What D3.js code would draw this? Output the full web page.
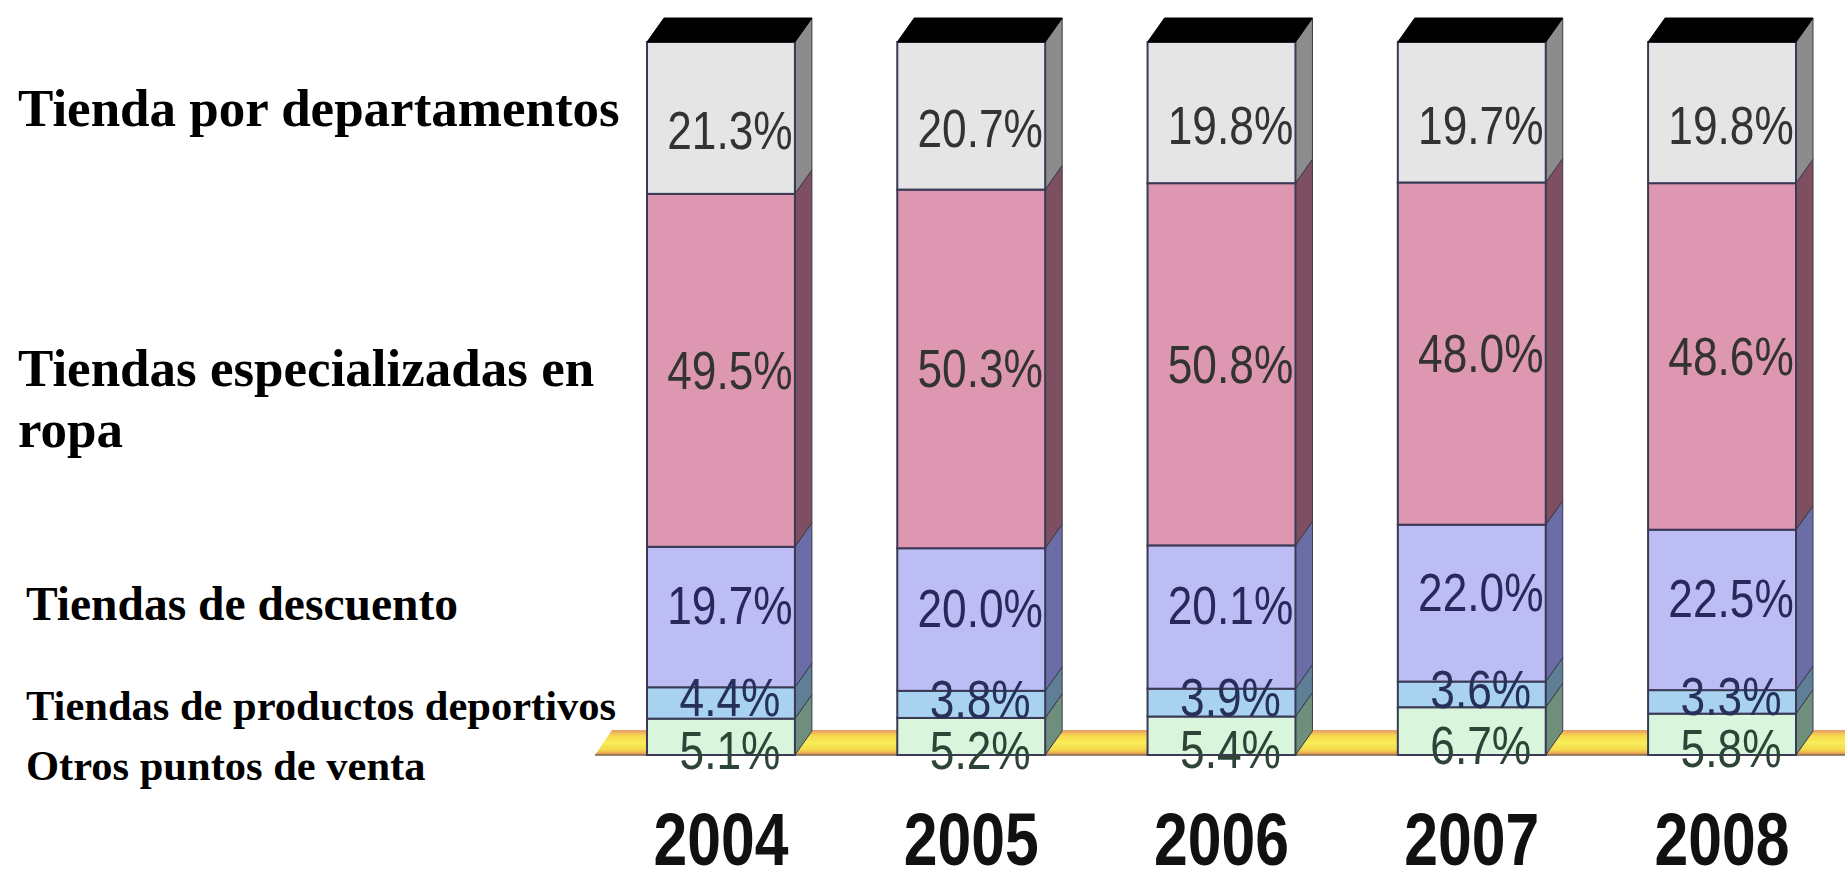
<!DOCTYPE html>
<html>
<head>
<meta charset="utf-8">
<script src="https://cdn.jsdelivr.net/npm/d3@7"></script>
<style>
  body { margin: 0; background: #fff; }
  svg { display: block; }
</style>
</head>
<body>
<div id="chart"></div>
<script>
// years along the bottom
var years = ['2004', '2005', '2006', '2007', '2008'];

// share of sales per channel, %
var departamentos = [21.3, 20.7, 19.8, 19.7, 19.8];
var ropa          = [49.5, 50.3, 50.8, 48.0, 48.6];
var descuento     = [19.7, 20.0, 20.1, 22.0, 22.5];
var deportivos    = [4.4, 3.8, 3.9, 3.6, 3.3];
var otros         = [5.1, 5.2, 5.4, 6.7, 5.8];

// category names, shown on the left (top to bottom)
var categories = [
  'Tienda por departamentos',
  'Tiendas especializadas en ropa',
  'Tiendas de descuento',
  'Tiendas de productos deportivos',
  'Otros puntos de venta'
];

var width = 1845, height = 872;
var depthX = 17, depthY = 24;
var narrow = 0.82; // no narrow font installed, squeeze Liberation Sans instead

// stack from the floor up
var keys = ['otros', 'deportivos', 'descuento', 'ropa', 'departamentos'];
var front = { otros: '#d9f5dc', deportivos: '#a9d2f0', descuento: '#bdbdf5', ropa: '#de97b1', departamentos: '#e5e5e5' };
var side  = { otros: '#6f8f7c', deportivos: '#5f7f96', descuento: '#6b6ea6', ropa: '#7e4f60', departamentos: '#8c8c8c' };
var ink   = { otros: '#2e4436', deportivos: '#26305a', descuento: '#28295a', ropa: '#333', departamentos: '#333' };

var rows = years.map(function(y, i) {
  return { year: y, departamentos: departamentos[i], ropa: ropa[i], descuento: descuento[i], deportivos: deportivos[i], otros: otros[i] };
});
var series = d3.stack().keys(keys)(rows);

var x = d3.scaleBand().domain(years).range([647, 1796]).paddingInner(0.409).paddingOuter(0);
var y = d3.scaleLinear().domain([0, 100]).range([755, 42]);
var bw = x.bandwidth();

var svg = d3.select('#chart').append('svg').attr('width', width).attr('height', height);

// floor
var defs = svg.append('defs');
var grad = defs.append('linearGradient').attr('id', 'floor').attr('x1', 0).attr('y1', 0).attr('x2', 0).attr('y2', 1);
grad.append('stop').attr('offset', '0%').attr('stop-color', '#e79a6a');
grad.append('stop').attr('offset', '22%').attr('stop-color', '#f6d64e');
grad.append('stop').attr('offset', '50%').attr('stop-color', '#f8ee58');
grad.append('stop').attr('offset', '80%').attr('stop-color', '#f4d84c');
grad.append('stop').attr('offset', '100%').attr('stop-color', '#e58a58');

var f0 = y(0);
svg.append('path')
  .attr('d', 'M595,' + f0 + 'L' + (595 + depthX) + ',' + (f0 - depthY - 1) + 'L' + width + ',' + (f0 - depthY - 1) + 'L' + width + ',' + f0 + 'Z')
  .attr('fill', 'url(#floor)');
svg.append('line').attr('x1', 595).attr('x2', width).attr('y1', f0).attr('y2', f0)
  .attr('stroke', '#7a6a50').attr('stroke-width', 1.5);

var bars = svg.selectAll('g.bar').data(years).enter().append('g').attr('class', 'bar');

series.forEach(function(s) {
  var k = s.key;
  s.forEach(function(d, i) {
    var x0 = x(years[i]), x1 = x0 + bw;
    var yt = y(d[1]), yb = y(d[0]);
    var g = d3.select(bars.nodes()[i]);
    // side face
    g.append('path')
      .attr('d', 'M' + x1 + ',' + yb + 'L' + (x1 + depthX) + ',' + (yb - depthY) + 'L' + (x1 + depthX) + ',' + (yt - depthY) + 'L' + x1 + ',' + yt + 'Z')
      .attr('fill', side[k]).attr('stroke', '#3a3a4a').attr('stroke-width', 1);
    // front face
    g.append('rect')
      .attr('x', x0).attr('y', yt).attr('width', bw).attr('height', yb - yt)
      .attr('fill', front[k]).attr('stroke', '#3a3a55').attr('stroke-width', 2);
  });
});

// top lids
bars.append('path')
  .attr('d', function(d) {
    var x0 = x(d), x1 = x0 + bw, yt = y(100);
    return 'M' + x0 + ',' + yt + 'L' + (x0 + depthX) + ',' + (yt - depthY) + 'L' + (x1 + depthX) + ',' + (yt - depthY) + 'L' + x1 + ',' + yt + 'Z';
  })
  .attr('fill', '#000').attr('stroke', '#000');

// value labels
var nudge = { otros: 13, deportivos: -6, descuento: -12, ropa: -1, departamentos: 12 };
series.forEach(function(s) {
  var k = s.key;
  svg.append('g').selectAll('text').data(s).enter().append('text')
    .attr('transform', function(d, i) {
      var cx = x(years[i]) + bw / 2 + 9;
      var cy = (y(d[0]) + y(d[1])) / 2 + nudge[k];
      return 'translate(' + cx + ',' + cy + ') scale(' + narrow + ',1)';
    })
    .attr('dy', '0.36em')
    .attr('text-anchor', 'middle')
    .attr('font-family', '"Liberation Sans", Arial, sans-serif')
    .attr('font-size', 54)
    .attr('fill', ink[k])
    .text(function(d) { return d3.format('.1f')(d[1] - d[0]) + '%'; });
});

// year labels
svg.append('g').selectAll('text').data(years).enter().append('text')
  .attr('transform', function(d) { return 'translate(' + (x(d) + bw / 2) + ',865) scale(' + narrow + ',1)'; })
  .attr('text-anchor', 'middle')
  .attr('font-family', '"Liberation Sans", Arial, sans-serif')
  .attr('font-weight', 'bold')
  .attr('font-size', 74)
  .attr('fill', '#111')
  .text(function(d) { return d; });

// category names on the left
var nameLayout = [
  { lines: ['Tienda por departamentos'], y: 126, size: 53 },
  { lines: ['Tiendas especializadas en', 'ropa'], y: 386, size: 53, lead: 61 },
  { lines: ['Tiendas de descuento'], y: 620, size: 47.5 },
  { lines: ['Tiendas de productos deportivos'], y: 720, size: 42.5 },
  { lines: ['Otros puntos de venta'], y: 780, size: 42.5 }
];
var names = svg.append('g').selectAll('text').data(categories).enter().append('text')
  .attr('x', function(d, i) { return i < 2 ? 18 : 26; })
  .attr('y', function(d, i) { return nameLayout[i].y; })
  .attr('font-family', '"Liberation Serif", "Times New Roman", serif')
  .attr('font-weight', 'bold')
  .attr('font-size', function(d, i) { return nameLayout[i].size; })
  .attr('fill', '#000');
names.each(function(d, i) {
  var t = d3.select(this), L = nameLayout[i];
  L.lines.forEach(function(line, j) {
    t.append('tspan').attr('x', t.attr('x')).attr('dy', j ? L.lead : 0).text(line);
  });
});
</script>
</body>
</html>
